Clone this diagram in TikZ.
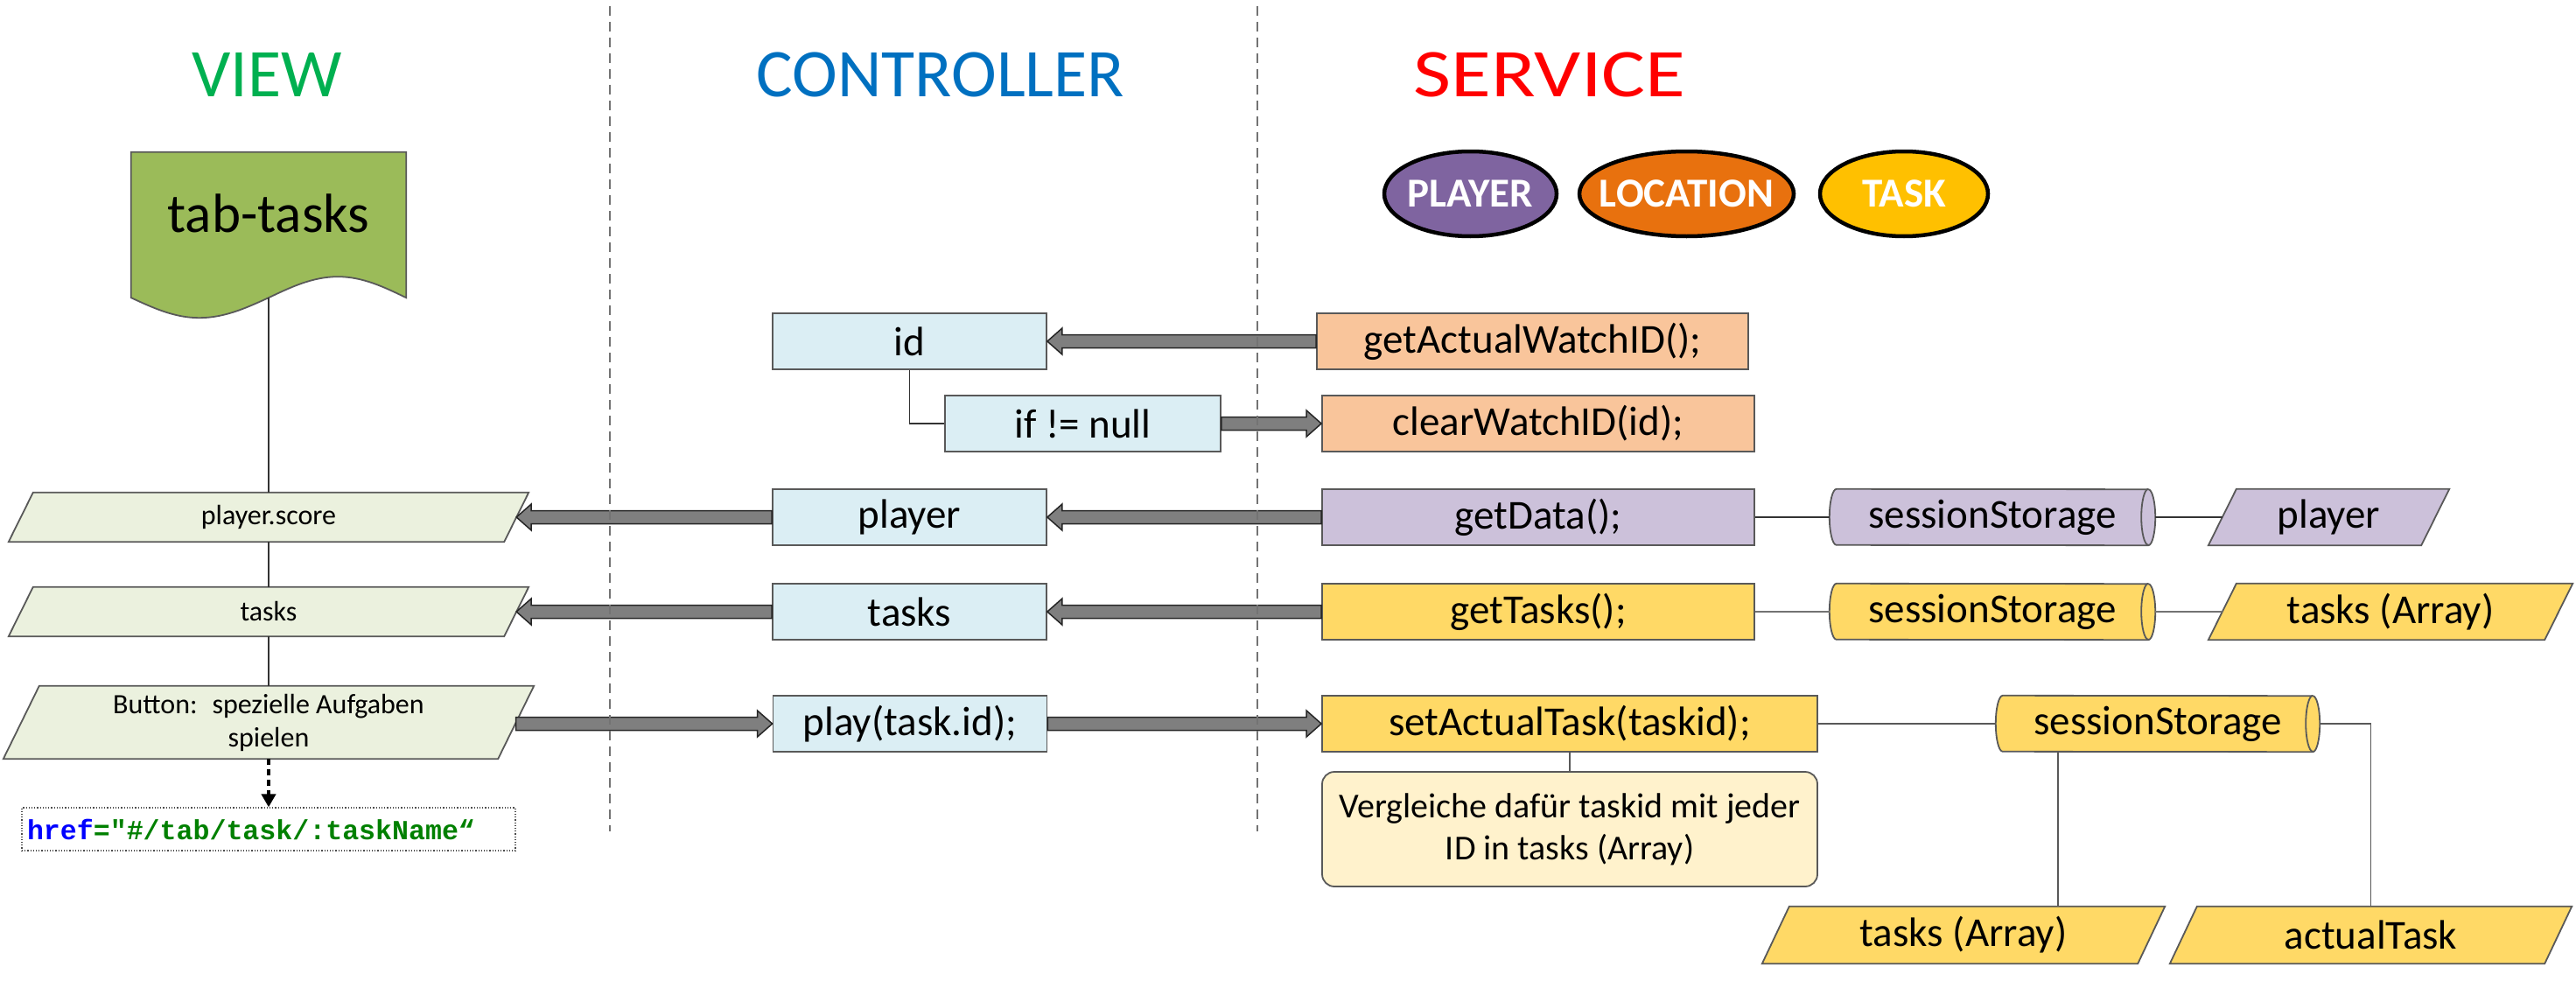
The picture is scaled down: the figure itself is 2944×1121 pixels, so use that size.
\documentclass[tikz,border=0pt]{standalone}
\usepackage{fontspec}
\setmainfont{Carlito}
\setmonofont{Liberation Mono}
\usetikzlibrary{arrows.meta,backgrounds,calc,shapes.geometric}
\definecolor{viewgreen}{HTML}{00B050}
\definecolor{ctrlblue}{HTML}{0070C0}
\definecolor{servred}{HTML}{FF0000}
\definecolor{cpurple}{HTML}{7F64A0}
\definecolor{corange}{HTML}{E8710E}
\definecolor{cyellow}{HTML}{FFC000}
\definecolor{tabgreen}{HTML}{9BBB59}
\definecolor{viewfill}{HTML}{EBF1DE}
\definecolor{ctrlfill}{HTML}{DBEEF4}
\definecolor{orangefill}{HTML}{F9C59B}
\definecolor{purplefill}{HTML}{CCC1DA}
\definecolor{yellowfill}{HTML}{FFD966}
\definecolor{notefill}{HTML}{FFF2CC}
\definecolor{bordergray}{HTML}{595959}
\definecolor{arrowgray}{HTML}{7F7F7F}
\definecolor{hrefblue}{HTML}{0000FF}
\definecolor{hrefgreen}{HTML}{008000}

% thick block arrow, tip at #2 which lies left of #1
\newcommand\fatL[2]{%
  \path[fat] let \p1=(#1), \p2=(#2) in
    (\x1,\y2+7.5pt) -- (\x2+17pt,\y2+7.5pt) -- (\x2+17pt,\y2+15pt) -- (\x2,\y2)
    -- (\x2+17pt,\y2-15pt) -- (\x2+17pt,\y2-7.5pt) -- (\x1,\y2-7.5pt) -- cycle;}
% thick block arrow, tip at #2 which lies right of #1
\newcommand\fatR[2]{%
  \path[fat] let \p1=(#1), \p2=(#2) in
    (\x1,\y2+7.5pt) -- (\x2-17pt,\y2+7.5pt) -- (\x2-17pt,\y2+15pt) -- (\x2,\y2)
    -- (\x2-17pt,\y2-15pt) -- (\x2-17pt,\y2-7.5pt) -- (\x1,\y2-7.5pt) -- cycle;}
% parallelogram round a holder node
\newcommand\parapath[3]{%
  \path[#3] ([xshift=#2]#1.north west) -- ([xshift=#2]#1.north east)
    -- ([xshift=-#2]#1.south east) -- ([xshift=-#2]#1.south west) -- cycle;}
% horizontal cylinder round a holder node
\newcommand\cylpath[2]{%
  \path[#2] ($(#1.north west)+(8,0)$) arc[start angle=90,end angle=270,x radius=8pt,y radius=32pt]
    -- ($(#1.south east)+(-8,0)$) arc[start angle=-90,end angle=90,x radius=8pt,y radius=32pt] -- cycle;
  \path[#2,fill=none] ($(#1.north east)+(-8,0)$) arc[start angle=90,end angle=270,x radius=8pt,y radius=32pt];}

\begin{document}
\begin{tikzpicture}[x=1pt,y=-1pt,
  title/.style={font=\fontsize{78}{90}\selectfont},
  oval/.style={ellipse,draw=black,line width=4.5pt,minimum height=97pt,inner sep=0pt,
    text=white,font=\fontsize{47}{56}\selectfont\bfseries},
  box/.style={rectangle,draw=bordergray,line width=1.8pt,minimum height=64pt,inner sep=0pt,
    font=\fontsize{47}{56}\selectfont},
  ctrl/.style={box,fill=ctrlfill,minimum width=313pt},
  svc/.style={box,minimum width=494pt},
  holder/.style={rectangle,draw=none,inner sep=0pt,align=center},
  viewtext/.style={holder,font=\fontsize{32}{38}\selectfont},
  svctext/.style={holder,minimum height=64pt,font=\fontsize{47}{56}\selectfont},
  shapeline/.style={draw=bordergray,line width=1.8pt},
  conn/.style={draw=black!80,line width=1.5pt},
  fat/.style={fill=arrowgray,draw=black!85,line width=1.5pt},
  sep/.style={draw=black!55,line width=1.5pt,dash pattern=on 11pt off 7pt},
  dasharrow/.style={draw=black,line width=4pt,dash pattern=on 7pt off 5pt,
    -{Triangle[length=15pt,width=16pt]}}]
\useasboundingbox (0,0) rectangle (2944,1121);

% titles
\node[title,text=viewgreen] (tview) at (305,85) {VIEW};
\node[title,text=ctrlblue] (tctrl) at (1075,85) {CONTROLLER};
\node[title,text=servred] (tserv) at (1771,85) {\scalebox{1.2}[1]{SERVICE}};

% legend ovals
\node[oval,fill=cpurple,minimum width=197pt] (cplayer) at (1680.5,221.5) {\makebox[0pt]{PLAYER}};
\node[oval,fill=corange,minimum width=245pt] (cloc) at (1927.5,221.5) {\makebox[0pt]{LOCATION}};
\node[oval,fill=cyellow,minimum width=192pt] (ctask) at (2176,221.5) {\makebox[0pt]{TASK}};

% view
\node[holder,minimum width=314pt,minimum height=166pt,text depth=27pt,
  font=\fontsize{63}{70}\selectfont] (tab) at (307,257) {tab-tasks};
\node[viewtext,minimum width=566pt,minimum height=56pt] (ps) at (307,591) {player.score};
\node[viewtext,minimum width=566pt,minimum height=56pt] (tk) at (307,699) {tasks};
\node[viewtext,minimum width=565pt,minimum height=83pt] (btn) at (307,825.5) {Button:~ spezielle Aufgaben\\spielen};
\node[draw=black!70,dotted,line width=1.2pt,minimum height=49pt,text width=552pt,
  inner xsep=6pt,inner ysep=0pt,align=left,
  font=\fontsize{31.6}{38}\selectfont\ttfamily\bfseries] (href) at (307,947.5)
  {{\color{hrefblue}href}\color{hrefgreen}="\#/tab/task/:taskName“};

% controller
\node[ctrl] (id) at (1039.5,390) {id};
\node[ctrl,minimum width=315pt] (ifn) at (1237.5,484) {if != null};
\node[ctrl] (cpl) at (1039.5,591) {player};
\node[ctrl] (ctk) at (1039.5,699) {tasks};
\node[ctrl] (play) at (1040,827) {play(task.id);};

% service
\node[svc,fill=orangefill,minimum width=493pt] (gaw) at (1751.5,390) {getActualWatchID();};
\node[svc,fill=orangefill] (cw) at (1758,484) {clearWatchID(id);};
\node[svc,fill=purplefill] (gd) at (1758,591) {getData();};
\node[svc,fill=yellowfill] (gt) at (1758,699) {getTasks();};
\node[svc,fill=yellowfill,minimum width=566pt] (sat) at (1794,827) {setActualTask(taskid);};
\node[box,fill=notefill,rounded corners=14pt,minimum width=566pt,minimum height=131pt,
  align=center,font=\fontsize{40}{48}\selectfont] (note) at (1794,947.5)
  {Vergleiche dafür taskid mit jeder\\ID in tasks (Array)};
\node[svctext,minimum width=372pt] (ss1) at (2277,591) {sessionStorage};
\node[svctext,minimum width=372pt] (ss2) at (2277,699) {sessionStorage};
\node[svctext,minimum width=370pt] (ss3) at (2466,827) {sessionStorage};
\node[svctext,minimum width=243pt] (pp) at (2661.5,591) {player};
\node[svctext,minimum width=384pt] (tarr1) at (2732,699) {tasks (Array)};
\node[svctext,minimum width=429pt,minimum height=65pt] (tarr2) at (2244,1068.5) {tasks (Array)};
\node[svctext,minimum width=428pt,minimum height=65pt] (atask) at (2709.5,1068.5) {actualTask};

% shapes drawn round holder nodes
\begin{scope}[on background layer]
  \path[shapeline,fill=tabgreen] (tab.south west) -- (tab.north west) -- (tab.north east)
    -- (tab.south east) sin ($(tab.south east)+(-78,-24)$) cos (tab.south)
    sin ($(tab.south west)+(78,23)$) cos (tab.south west) -- cycle;
  \parapath{ps}{14pt}{shapeline,fill=viewfill}
  \parapath{tk}{14pt}{shapeline,fill=viewfill}
  \parapath{btn}{20.5pt}{shapeline,fill=viewfill}
  \parapath{pp}{16pt}{shapeline,fill=purplefill}
  \parapath{tarr1}{16pt}{shapeline,fill=yellowfill}
  \parapath{tarr2}{15.5pt}{shapeline,fill=yellowfill}
  \parapath{atask}{15.5pt}{shapeline,fill=yellowfill}
  \cylpath{ss1}{shapeline,fill=purplefill}
  \cylpath{ss2}{shapeline,fill=yellowfill}
  \cylpath{ss3}{shapeline,fill=yellowfill}
\end{scope}

% thin connectors
\draw[conn] (tab.south) -- (ps.north);
\draw[conn] (ps.south) -- (tk.north);
\draw[conn] (tk.south) -- (btn.north);
\draw[dasharrow] (btn.south) -- (href.north);
\draw[conn] (id.south) |- (ifn.west);
\draw[conn] (gd.east) -- (ss1.west);
\draw[conn] (ss1.east) -- (pp.west);
\draw[conn,draw=black!55] (gt.east) -- (ss2.west);
\draw[conn,draw=black!55] (ss2.east) -- (tarr1.west);
\draw[conn,draw=black!65] (sat.east) -- (ss3.west);
\draw[conn,draw=black!65] (sat.south) -- (note.north);
\coordinate (ssdrop) at ([xshift=-114pt]ss3.south);
\draw[conn,draw=black!65] (ssdrop) -- (ssdrop |- tarr2.north);
\draw[conn,draw=black!65] (ss3.east) -| (atask.north);

% block arrows
\fatL{gaw.west}{id.east}
\fatR{ifn.east}{cw.west}
\fatL{gd.west}{cpl.east}
\fatL{cpl.west}{ps.east}
\fatL{gt.west}{ctk.east}
\fatL{ctk.west}{tk.east}
\fatR{btn.east}{play.west}
\fatR{play.east}{sat.west}

% column separators
\draw[sep] (697,7) -- (697,950);
\draw[sep] (1437,7) -- (1437,950);
\end{tikzpicture}
\end{document}
